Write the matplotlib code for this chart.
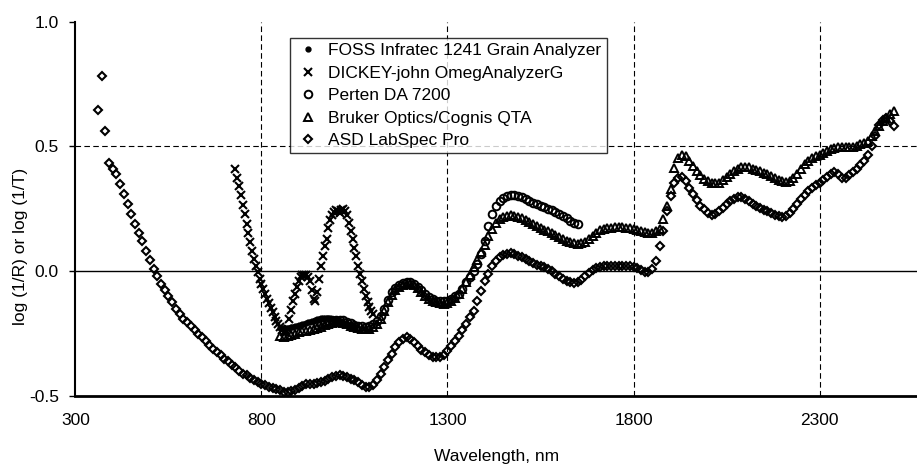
import numpy as np
import matplotlib
matplotlib.use("Agg")
import matplotlib.pyplot as plt

plt.rcParams["font.family"] = ["Liberation Sans", "DejaVu Sans"]

# FOSS Infratec 1241 Grain Analyzer, 850-1050 nm, 5 nm steps
foss_nm = np.arange(850, 1051, 5)
foss = [-0.226, -0.228, -0.229, -0.229, -0.228, -0.226, -0.224, -0.222, -0.220, -0.218,
        -0.216, -0.214, -0.212, -0.210, -0.208, -0.205, -0.203, -0.200, -0.198, -0.195,
        -0.193, -0.191, -0.189, -0.188, -0.187, -0.187, -0.188, -0.189, -0.191, -0.193,
        -0.196, -0.198, -0.201, -0.204, -0.207, -0.210, -0.213, -0.215, -0.217, -0.219,
        -0.220]

# DICKEY-john OmegAnalyzerG, 730-1100 nm, 5 nm steps
dickey_nm = np.arange(730, 1101, 5)
dickey = [0.410, 0.375, 0.340, 0.305, 0.265, 0.228, 0.190, 0.153, 0.116, 0.080,
          0.048, 0.020, -0.005, -0.030, -0.052, -0.072, -0.092, -0.110, -0.128, -0.148,
          -0.165, -0.182, -0.198, -0.213, -0.225, -0.235, -0.243, -0.245, -0.230, -0.190,
          -0.155, -0.120, -0.090, -0.065, -0.040, -0.022, -0.015, -0.015, -0.017, -0.022,
          -0.040, -0.075, -0.110, -0.120, -0.085, -0.030, 0.020, 0.060, 0.100, 0.130,
          0.175, 0.205, 0.225, 0.238, 0.245, 0.240, 0.235, 0.245, 0.250, 0.240,
          0.225, 0.195, 0.160, 0.130, 0.095, 0.060, 0.020, -0.010, -0.040, -0.070,
          -0.100, -0.125, -0.145, -0.160, -0.170]

# Perten DA 7200, 950-1650 nm, 10 nm steps
perten_nm = np.arange(950, 1651, 10)
perten = [-0.215, -0.210, -0.205, -0.200, -0.196, -0.194, -0.194, -0.197, -0.202, -0.208,
          -0.214, -0.218, -0.220, -0.222, -0.220, -0.212, -0.200, -0.180, -0.150, -0.115,
          -0.085, -0.066, -0.054, -0.046, -0.043, -0.044, -0.050, -0.062, -0.077, -0.092,
          -0.104, -0.112, -0.118, -0.120, -0.120, -0.118, -0.110, -0.100, -0.090, -0.070,
          -0.045, -0.023, 0.000, 0.030, 0.070, 0.120, 0.180, 0.230, 0.262, 0.283,
          0.295, 0.303, 0.306, 0.305, 0.302, 0.297, 0.290, 0.282, 0.274, 0.268,
          0.262, 0.256, 0.250, 0.245, 0.238, 0.230, 0.222, 0.212, 0.203, 0.195,
          0.188]

# Bruker Optics/Cognis QTA, 850-2500 nm, 10 nm steps
bruker_nm = np.arange(850, 2501, 10)
bruker = [-0.260, -0.262, -0.260, -0.255, -0.250, -0.245, -0.240, -0.238, -0.235, -0.232,
          -0.228, -0.222, -0.216, -0.210, -0.206, -0.204, -0.204, -0.207, -0.212, -0.218,
          -0.224, -0.228, -0.230, -0.232, -0.230, -0.222, -0.210, -0.190, -0.160, -0.125,
          -0.095, -0.075, -0.062, -0.054, -0.050, -0.050, -0.056, -0.068, -0.083, -0.098,
          -0.110, -0.118, -0.124, -0.128, -0.130, -0.128, -0.120, -0.108, -0.090, -0.070,
          -0.045, -0.015, 0.015, 0.045, 0.075, 0.105, 0.140, 0.170, 0.192, 0.208,
          0.218, 0.223, 0.225, 0.222, 0.217, 0.212, 0.205, 0.198, 0.190, 0.183,
          0.175, 0.167, 0.160, 0.152, 0.144, 0.136, 0.128, 0.121, 0.116, 0.112,
          0.110, 0.112, 0.118, 0.128, 0.142, 0.155, 0.165, 0.170, 0.173, 0.175,
          0.176, 0.177, 0.176, 0.174, 0.172, 0.170, 0.166, 0.162, 0.158, 0.155,
          0.155, 0.160, 0.170, 0.210, 0.260, 0.330, 0.415, 0.455, 0.466, 0.460,
          0.440, 0.420, 0.400, 0.385, 0.370, 0.360, 0.354, 0.352, 0.354, 0.365,
          0.378, 0.390, 0.400, 0.410, 0.416, 0.418, 0.416, 0.410, 0.404, 0.400,
          0.395, 0.388, 0.380, 0.373, 0.366, 0.360, 0.358, 0.362, 0.372, 0.390,
          0.410, 0.428, 0.442, 0.452, 0.460, 0.466, 0.474, 0.482, 0.490, 0.494,
          0.496, 0.497, 0.498, 0.498, 0.498, 0.502, 0.508, 0.512, 0.520, 0.540,
          0.560, 0.580, 0.600, 0.615, 0.630, 0.640]

# ASD LabSpec Pro, 360-2500 nm, 10 nm steps
asd_nm = np.arange(360, 2501, 10)
asd = [0.645, 0.783, 0.561, 0.434, 0.410, 0.390, 0.350, 0.310, 0.270, 0.230,
       0.190, 0.155, 0.120, 0.080, 0.045, 0.010, -0.020, -0.050, -0.075, -0.100,
       -0.125, -0.150, -0.170, -0.190, -0.205, -0.220, -0.235, -0.250, -0.265, -0.280,
       -0.297, -0.310, -0.323, -0.336, -0.350, -0.360, -0.375, -0.385, -0.398, -0.410,
       -0.417, -0.427, -0.435, -0.442, -0.450, -0.456, -0.462, -0.467, -0.472, -0.477,
       -0.482, -0.485, -0.480, -0.475, -0.468, -0.460, -0.452, -0.450, -0.450, -0.448,
       -0.445, -0.438, -0.430, -0.422, -0.418, -0.417, -0.420, -0.425, -0.430, -0.436,
       -0.445, -0.455, -0.462, -0.464, -0.455, -0.435, -0.410, -0.385, -0.355, -0.330,
       -0.305, -0.285, -0.270, -0.262, -0.270, -0.285, -0.300, -0.315, -0.325, -0.335,
       -0.342, -0.345, -0.344, -0.335, -0.320, -0.300, -0.280, -0.260, -0.235, -0.210,
       -0.185, -0.160, -0.120, -0.080, -0.040, -0.010, 0.020, 0.040, 0.055, 0.065,
       0.070, 0.071, 0.068, 0.062, 0.055, 0.048, 0.040, 0.033, 0.026, 0.020,
       0.015, 0.008, 0.000, -0.010, -0.020, -0.030, -0.040, -0.045, -0.049, -0.045,
       -0.035, -0.020, -0.008, 0.005, 0.013, 0.018, 0.020, 0.022, 0.022, 0.022,
       0.020, 0.020, 0.020, 0.020, 0.018, 0.012, 0.005, -0.005, -0.005, 0.010,
       0.040, 0.100, 0.160, 0.240, 0.300, 0.355, 0.375, 0.378, 0.360, 0.335,
       0.310, 0.285, 0.262, 0.248, 0.235, 0.226, 0.228, 0.240, 0.255, 0.268,
       0.280, 0.290, 0.297, 0.296, 0.290, 0.280, 0.270, 0.263, 0.255, 0.247,
       0.240, 0.232, 0.225, 0.220, 0.218, 0.222, 0.232, 0.250, 0.270, 0.290,
       0.305, 0.320, 0.335, 0.345, 0.355, 0.365, 0.378, 0.390, 0.397, 0.390,
       0.375, 0.375, 0.385, 0.398, 0.410, 0.425, 0.440, 0.465, 0.500, 0.540,
       0.585, 0.605, 0.612, 0.600, 0.580]

labels = ["FOSS Infratec 1241 Grain Analyzer", "DICKEY-john OmegAnalyzerG",
          "Perten DA 7200", "Bruker Optics/Cognis QTA", "ASD LabSpec Pro"]
x_ticks = [300, 800, 1300, 1800, 2300]
y_ticks = [-0.5, 0.0, 0.5, 1.0]

fig = plt.figure(figsize=(9.17, 4.67), dpi=100)
ax = fig.add_axes([0.0823, 0.152, 0.9177, 0.8017])

style = dict(linestyle="none", color="black", clip_on=False)
ax.plot(foss_nm, foss, marker="o", markersize=3.5, mfc="black", mew=1, label=labels[0], **style)
ax.plot(dickey_nm, dickey, marker="x", markersize=6, mew=1.5, label=labels[1], **style)
ax.plot(perten_nm, perten, marker="o", markersize=5.5, mfc="none", mew=1.4, label=labels[2], **style)
ax.plot(bruker_nm, bruker, marker="^", markersize=5.5, mfc="none", mew=1.4, label=labels[3], **style)
ax.plot(asd_nm, asd, marker="D", markersize=4.5, mfc="none", mew=1.5, label=labels[4], **style)

ax.set_xlim(300, 2562)
ax.set_ylim(-0.5, 1.0)
ax.set_xticks(x_ticks)
ax.set_yticks(y_ticks)
ax.set_yticklabels([f"{v:.1f}" for v in y_ticks])
ax.axhline(0, color="black", linewidth=1, zorder=1)
ax.axhline(0.5, color="black", linewidth=0.8, linestyle=(0, (5, 3)), zorder=1)
for x in x_ticks[1:]:
    ax.axvline(x, color="black", linewidth=0.8, linestyle=(0, (5, 3)), zorder=1)

for side in ("top", "right"):
    ax.spines[side].set_visible(False)
ax.spines["left"].set_linewidth(1.5)
ax.spines["bottom"].set_linewidth(2)
ax.tick_params(axis="y", direction="out", length=4, width=1, labelsize=12.5, pad=8)
ax.tick_params(axis="x", length=0, labelsize=12.5, pad=12)

ax.set_xlabel("Wavelength, nm", fontsize=12.5, labelpad=15)
ax.set_ylabel("log (1/R) or log (1/T)", fontsize=12.5)
ax.yaxis.set_label_coords(-0.056, 0.4)

leg = ax.legend(loc="upper left", bbox_to_anchor=(290 / 917, 1 - 38 / 467),
                bbox_transform=fig.transFigure, fontsize=12.5, frameon=True,
                fancybox=False, edgecolor="black", handlelength=1.5,
                handletextpad=0.4, labelspacing=0.42, borderpad=0.3,
                borderaxespad=0)
leg.get_frame().set_linewidth(1)
leg.set_zorder(5)

fig.savefig("out.png", dpi=100)
